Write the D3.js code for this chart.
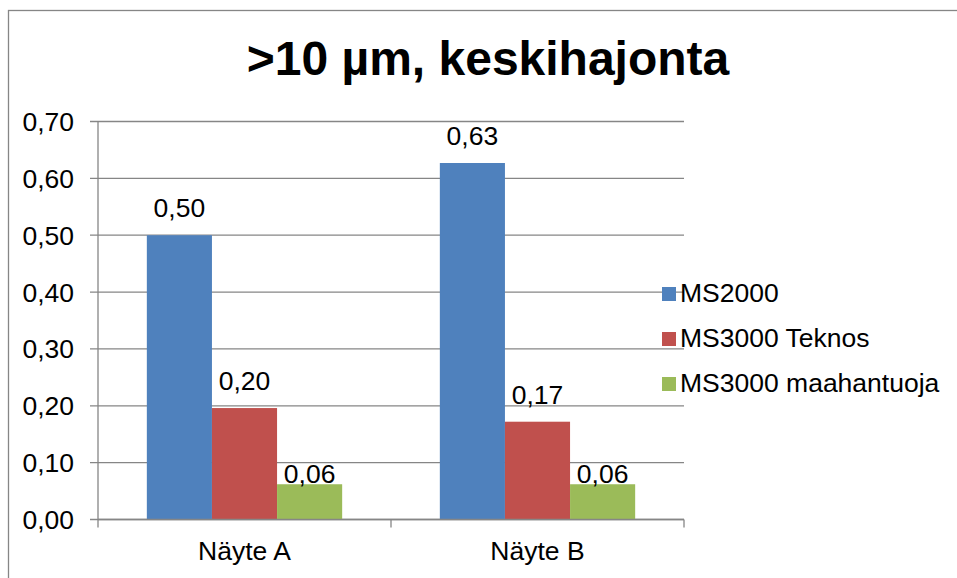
<!DOCTYPE html>
<html>
<head>
<meta charset="utf-8">
<script src="https://cdn.jsdelivr.net/npm/d3@7/dist/d3.min.js"></script>
<style>
  html, body { margin: 0; padding: 0; background: #fff; }
  svg { display: block; font-family: "Liberation Sans", Arial, sans-serif; }
</style>
</head>
<body>
<svg id="chart" width="957" height="578"></svg>
<script>
const title = ">10 µm, keskihajonta";
const categories = ["Näyte A", "Näyte B"];
const seriesNames = ["MS2000", "MS3000 Teknos", "MS3000 maahantuoja"];
const ms2000 = [0.50, 0.627];
const ms3000Teknos = [0.196, 0.172];
const ms3000Maahantuoja = [0.062, 0.062];
const yTicks = [0, 0.1, 0.2, 0.3, 0.4, 0.5, 0.6, 0.7];

const seriesValues = [ms2000, ms3000Teknos, ms3000Maahantuoja];
const colors = ["#4F81BD", "#C0504D", "#9BBB59"];
const labelGap = [18, 18, 1];
const fs = 26.5;

const svg = d3.select("#chart");
const fmt = v => d3.format(".2f")(v).replace(".", ",");

// outer border
svg.append("rect").attr("x", 8.5).attr("y", 10.5).attr("width", 980).attr("height", 600)
  .attr("fill", "#fff").attr("stroke", "#868686").attr("stroke-width", 1.3);

// title
svg.append("text").attr("x", 488).attr("y", 75).attr("text-anchor", "middle")
  .attr("font-size", 48).attr("font-weight", "bold").attr("fill", "#000").text(title);

const plotLeft = 98, plotRight = 684, plotTop = 121.5, plotBottom = 519.5;
const y = d3.scaleLinear().domain([0, 0.7]).range([plotBottom, plotTop]);
const x0 = d3.scaleBand().domain(categories).range([plotLeft, plotRight]).padding(0);
const x1 = d3.scaleBand().domain(seriesNames).range([0, x0.bandwidth()])
  .paddingInner(0).paddingOuter(0.75);

// gridlines + y ticks
const grid = svg.append("g");
yTicks.forEach(t => {
  grid.append("line").attr("x1", plotLeft - 8).attr("x2", plotRight)
    .attr("y1", y(t)).attr("y2", y(t))
    .attr("stroke", "#868686").attr("stroke-width", 1.3);
  grid.append("text").attr("x", 74).attr("y", y(t) + 9.5).attr("text-anchor", "end")
    .attr("font-size", fs).attr("fill", "#000").text(fmt(t));
});

// y axis line
svg.append("line").attr("x1", plotLeft).attr("x2", plotLeft).attr("y1", plotTop).attr("y2", plotBottom)
  .attr("stroke", "#868686").attr("stroke-width", 1.3);

// bars
categories.forEach((c, ci) => {
  seriesNames.forEach((s, si) => {
    const v = seriesValues[si][ci];
    const bx = x0(c) + x1(s);
    svg.append("rect").attr("x", bx).attr("y", y(v))
      .attr("width", x1.bandwidth()).attr("height", y(0) - y(v))
      .attr("fill", colors[si]);
    svg.append("text").attr("x", bx + x1.bandwidth() / 2).attr("y", y(v) - labelGap[si])
      .attr("text-anchor", "middle").attr("font-size", fs).attr("fill", "#000")
      .text(fmt(v));
  });
});

// x axis
const xAxisTicks = [plotLeft].concat(categories.map(c => x0(c) + x0.bandwidth()));
svg.append("line").attr("x1", plotLeft).attr("x2", plotRight).attr("y1", plotBottom).attr("y2", plotBottom)
  .attr("stroke", "#868686").attr("stroke-width", 1.3);
xAxisTicks.forEach(tx => {
  svg.append("line").attr("x1", tx).attr("x2", tx).attr("y1", plotBottom).attr("y2", plotBottom + 8)
    .attr("stroke", "#868686").attr("stroke-width", 1.3);
});
categories.forEach(c => {
  svg.append("text").attr("x", x0(c) + x0.bandwidth() / 2).attr("y", 560)
    .attr("text-anchor", "middle").attr("font-size", fs).attr("fill", "#000").text(c);
});

// legend
seriesNames.forEach((s, i) => {
  const ly = 287 + i * 45;
  svg.append("rect").attr("x", 662).attr("y", ly).attr("width", 14).attr("height", 14)
    .attr("fill", colors[i]);
  svg.append("text").attr("x", 680).attr("y", ly + 15).attr("font-size", fs)
    .attr("fill", "#000").text(s);
});
</script>
</body>
</html>
